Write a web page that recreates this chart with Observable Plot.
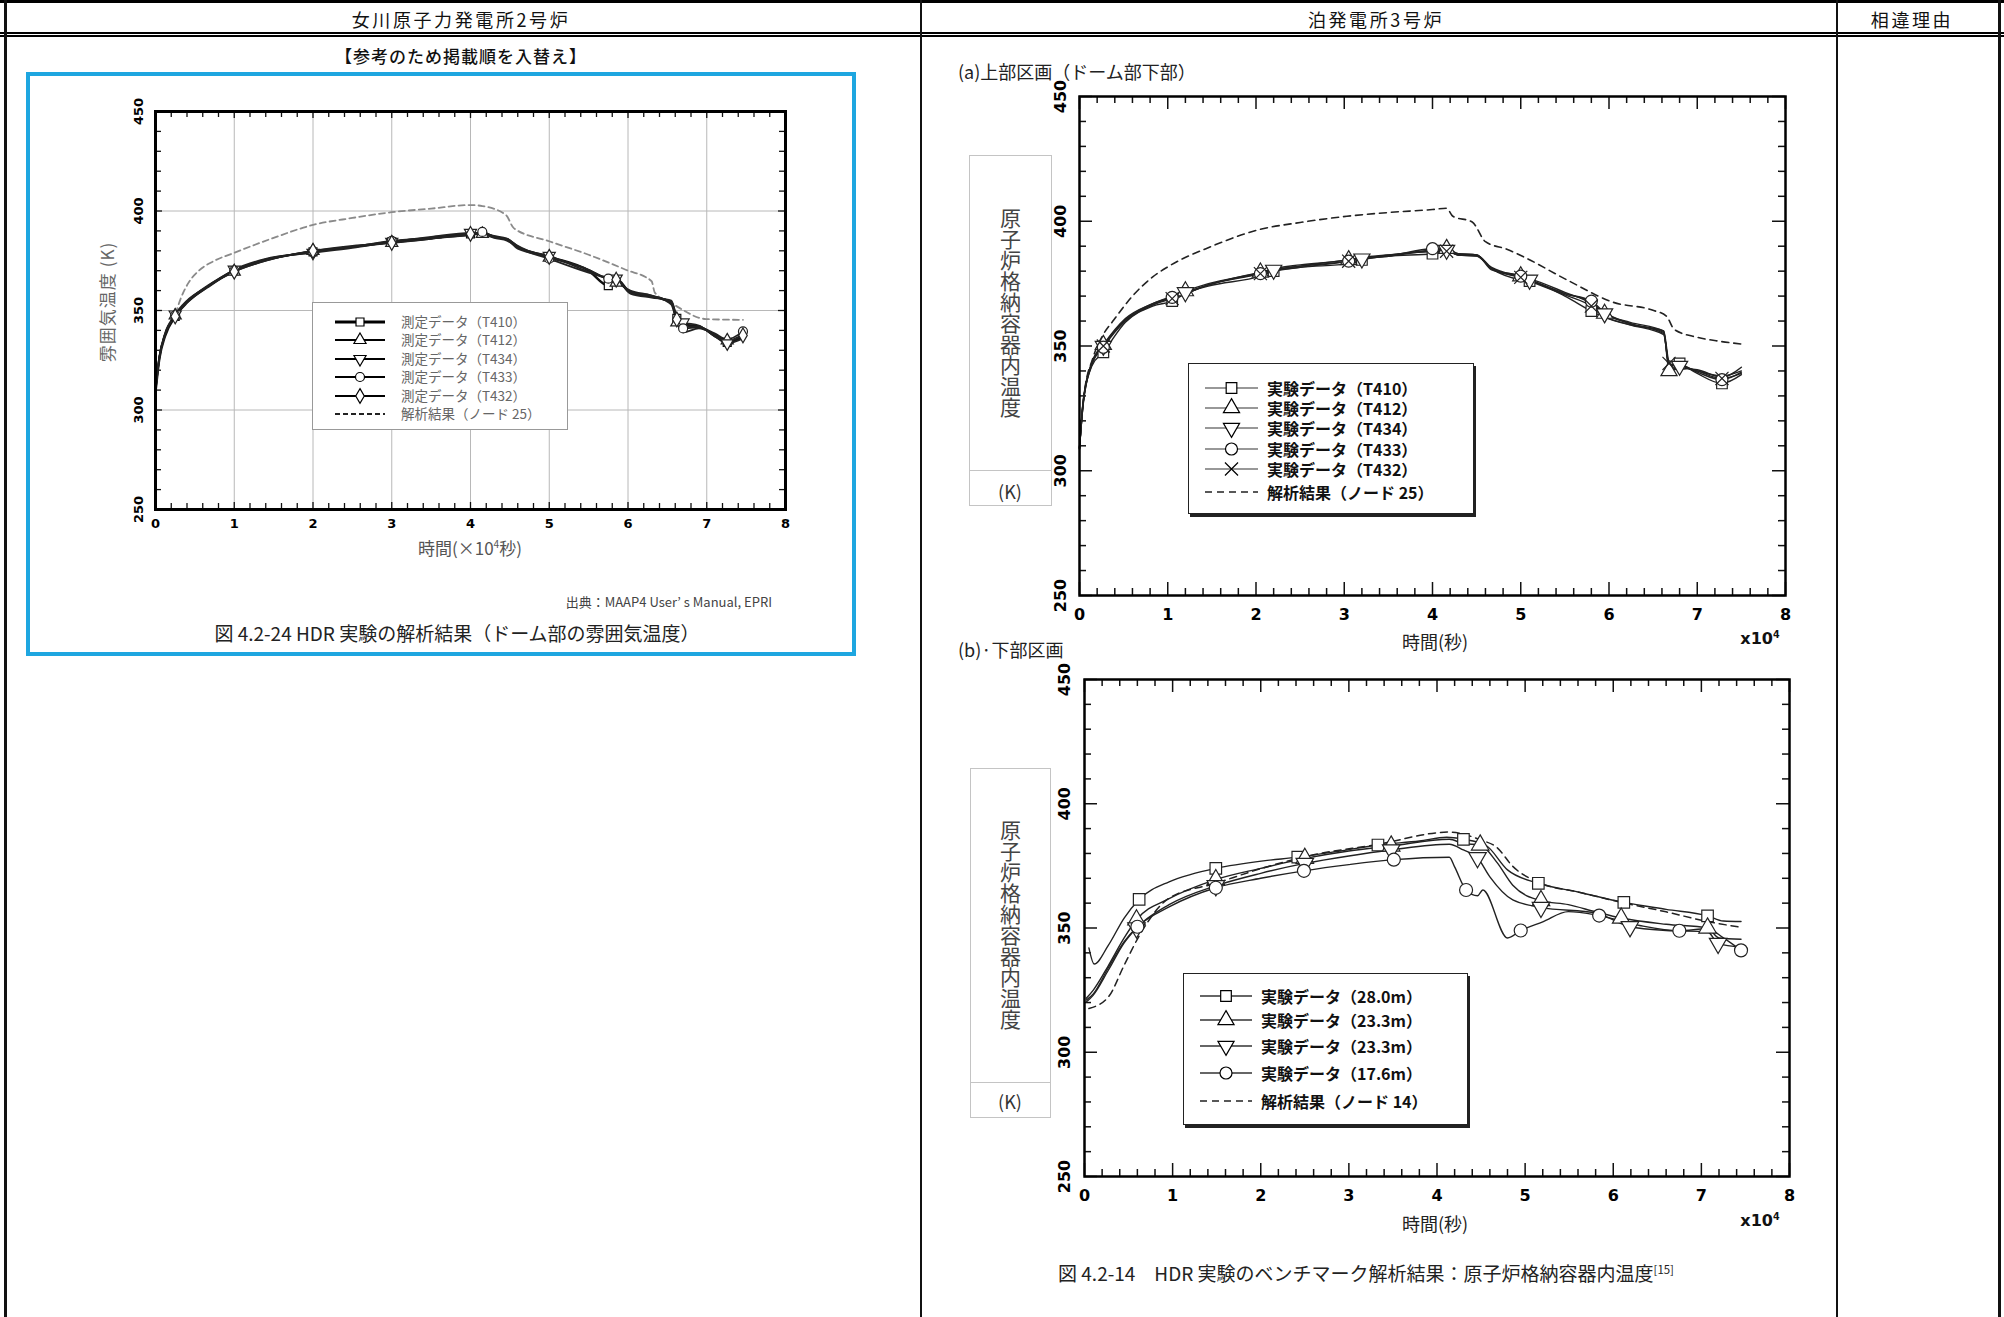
<!DOCTYPE html>
<html><head><meta charset="utf-8">
<script src="https://cdn.jsdelivr.net/npm/d3@7"></script>
<script src="https://cdn.jsdelivr.net/npm/@observablehq/plot@0.6"></script>
<style>
body{margin:0;background:#fff;}
#page{position:relative;width:2004px;height:1317px;overflow:hidden;background:#fff;font-family:"Noto Sans CJK JP","Noto Sans",sans-serif;color:#111;}
sup{font-size:0.6em;vertical-align:0.6em;line-height:0}
</style></head><body><div id="page"></div>
<script>
// ================= DATA =================
const headers = ["女川原子力発電所2号炉", "泊発電所3号炉", "相違理由"];
const xTicks = [0, 1, 2, 3, 4, 5, 6, 7, 8];
const yTicks = [250, 300, 350, 400, 450];

// ---- Left chart (女川, 図4.2-24) : five measured series on a shared time grid (×10^4 s), K
const lX    = [0, 0.05, 0.12, 0.25, 0.4, 0.66, 1.0, 1.4, 2.0, 2.5, 3.0, 3.5, 4.0, 4.15, 4.3, 4.47, 4.6, 5.0, 5.5, 5.75, 5.85, 6.03, 6.3, 6.55, 6.62, 6.7, 6.9, 7.1, 7.26, 7.46];
const lT410 = [309, 326, 337, 347, 354, 362, 370, 375.5, 379.5, 382, 384.5, 386.5, 388.5, 389, 387, 385.5, 382, 377, 370, 362.5, 366, 359, 357, 354, 346, 343, 342, 337.5, 334, 337];
const lT412 = [310, 327, 338, 347.5, 354.5, 362.5, 369.5, 375, 380, 382.5, 384, 386, 388, 388.5, 387.5, 386, 382.5, 376.5, 370.5, 365.5, 364, 360, 357.5, 353, 344, 339, 341, 338, 335, 338];
const lT434 = [309, 326.5, 337.5, 348, 355, 362, 370.5, 376, 379, 381.5, 384.5, 387, 389, 388.5, 386.5, 385, 381.5, 377.5, 369.5, 366.5, 366, 358.5, 356.5, 355, 347, 344, 342.5, 337, 333.5, 336];
const lT433 = [310, 327, 338.5, 347.5, 354, 361.5, 370, 375.5, 379.5, 382, 385, 386.5, 388, 389.5, 387, 386, 382, 376, 369, 366, 365, 359.5, 357, 354.5, 345, 341, 341.5, 338.5, 335.5, 339.5];
const lT432 = [309.5, 326, 338, 347, 354.5, 362, 369.5, 375, 380, 382, 384, 386, 388.5, 388.5, 387, 385.5, 381, 377, 370.5, 366, 365.5, 359, 357.5, 354, 345.5, 342, 342, 337, 334.5, 337.5];
const lDashX = [0, 0.05, 0.12, 0.25, 0.32, 0.42, 0.55, 0.75, 1.0, 1.5, 2.0, 2.5, 3.0, 3.5, 4.0, 4.15, 4.45, 4.55, 5.0, 5.5, 5.97, 6.3, 6.34, 6.58, 6.99, 7.46];
const lDashY = [310, 327, 338, 348, 356, 364, 370, 375, 379, 386.5, 393, 396.5, 399.4, 401.2, 403, 402.5, 398, 391.4, 384.8, 378, 370.5, 364.7, 359, 353, 345.7, 345.3];
const lMarkT410 = [0.25, 1.0, 2.0, 3.0, 4.0, 5.0, 5.75, 6.62, 7.26];
const lMarkT412 = [0.25, 1.0, 2.0, 3.0, 4.15, 5.0, 5.85, 6.62, 7.26];
const lMarkT434 = [0.25, 1.0, 2.0, 3.0, 4.0, 5.0, 5.85, 6.7, 7.26];
const lMarkT433 = [0.25, 1.0, 2.0, 3.0, 4.15, 5.0, 5.75, 6.7, 7.46];
const lMarkT432 = [0.25, 1.0, 2.0, 3.0, 4.0, 5.0, 5.85, 6.62, 7.46];
const lLabels = ["測定データ（T410）", "測定データ（T412）", "測定データ（T434）", "測定データ（T433）", "測定データ（T432）", "解析結果（ノード 25）"];

// ---- Right top chart (泊, (a) 上部区画)
const rX    = [0, 0.04, 0.14, 0.27, 0.52, 0.83, 1.05, 1.2, 1.46, 2.05, 2.2, 2.5, 3.05, 3.2, 3.5, 4.0, 4.16, 4.29, 4.5, 4.67, 5.0, 5.1, 5.5, 5.8, 5.95, 6.24, 6.62, 6.68, 6.8, 7.0, 7.28, 7.5];
const rT410 = [309, 326, 342, 347.5, 359.5, 366, 368, 371, 374, 378, 380, 381.5, 383, 384.5, 386, 387, 388, 386.5, 386, 381, 376.5, 376, 370, 364, 361.5, 358.5, 356, 344, 343, 339, 335, 338.5];
const rT412 = [309.5, 327.5, 343.5, 350.5, 361, 367, 370, 372, 375, 379.5, 381, 382.5, 384.5, 385.5, 386.5, 388.5, 389, 387, 386.5, 381.5, 378, 377, 371.5, 367, 363, 359.5, 356, 340, 341, 340.5, 337.5, 341.5];
const rT434 = [309, 327, 343, 350, 360.5, 367, 369.5, 371.5, 374.5, 379.5, 380.5, 382, 384.5, 385, 386.5, 388, 388.5, 387, 386.5, 381, 377.5, 376.5, 371, 367.5, 363, 359, 355, 342.5, 342, 340, 338, 340];
const rT433 = [308.5, 326.5, 342.5, 349.5, 360, 366.5, 369.5, 371, 374.5, 379, 380.5, 382, 384, 385, 386, 389, 388.5, 386.5, 386.5, 380.5, 378, 376.5, 371, 368, 363.5, 359, 355.5, 342, 342.5, 339.5, 336.5, 339.5];
const rT432 = [309, 327, 343, 350, 360.5, 366.5, 369, 371, 374.5, 379, 380, 381.5, 384, 385, 386, 388, 388, 386.5, 386, 381, 377.5, 376, 370.5, 366, 362, 358.5, 354.5, 343, 342, 340, 337, 339];
const rDashX = [0, 0.05, 0.15, 0.26, 0.39, 0.6, 0.83, 1.0, 1.5, 2.03, 2.5, 3.03, 3.5, 4.0, 4.16, 4.23, 4.45, 4.6, 4.85, 5.04, 5.55, 6.05, 6.49, 6.65, 6.74, 7.0, 7.25, 7.5];
const rDashY = [309, 330, 345, 354, 360.5, 370, 377.7, 381.7, 390, 396.6, 399.5, 402, 403.5, 404.7, 405.2, 402, 399.7, 391.8, 388.7, 385.6, 376, 367.5, 364.4, 362, 356.6, 353.5, 351.9, 350.8];
const rMarkT410 = [0.27, 1.05, 2.2, 3.2, 4.0, 5.1, 5.8, 6.8, 7.28];
const rMarkT412 = [0.27, 1.2, 2.05, 3.05, 4.16, 5.0, 5.95, 6.68];
const rMarkT434 = [0.27, 1.2, 2.2, 3.2, 4.16, 5.1, 5.95, 6.8];
const rMarkT433 = [0.27, 1.05, 2.05, 3.05, 4.0, 5.0, 5.8, 7.28];
const rMarkT432 = [0.27, 1.05, 2.05, 3.05, 4.16, 5.0, 5.8, 6.68, 7.28];
const rLabels = ["実験データ（T410）", "実験データ（T412）", "実験データ（T434）", "実験データ（T433）", "実験データ（T432）", "解析結果（ノード 25）"];

// ---- Right bottom chart (泊, (b) 下部区画)
const b280X  = [0.05, 0.11, 0.27, 0.45, 0.62, 0.96, 1.2, 1.49, 2.03, 2.42, 2.9, 3.33, 3.8, 4.11, 4.3, 4.55, 4.8, 5.15, 5.6, 6.12, 6.6, 7.07, 7.25, 7.45];
const b280Y  = [342, 335.5, 343, 354, 361.5, 368.6, 371.5, 374, 377, 378.5, 381, 383.4, 385, 386.5, 385.7, 383.4, 373.4, 368, 364.5, 360.3, 357.5, 354.9, 352.8, 352.6];
const b233aX = [0.02, 0.1, 0.27, 0.45, 0.59, 0.96, 1.49, 2.0, 2.5, 3.0, 3.48, 4.14, 4.3, 4.49, 4.68, 4.86, 5.18, 5.49, 5.8, 6.09, 6.6, 7.07, 7.2, 7.45];
const b233aY = [321.7, 325, 334.8, 346, 353.3, 361.8, 369.5, 374, 378, 381, 383, 385.7, 384, 383.4, 376.4, 367.2, 361, 359.4, 356.5, 354, 351.5, 350, 346, 345.5];
const b233bX = [0.02, 0.1, 0.27, 0.45, 0.59, 0.96, 1.49, 2.0, 2.5, 3.0, 3.48, 4.14, 4.3, 4.46, 4.6, 4.86, 5.18, 5.81, 6.19, 6.6, 7.07, 7.19, 7.45];
const b233bY = [320.2, 323, 333, 344, 350, 359.4, 367, 372, 376, 379, 381.4, 383.7, 381.4, 378.3, 370.6, 361.3, 358.3, 356, 350.5, 349, 348.5, 343.8, 342.3];
const b176X  = [0.02, 0.1, 0.27, 0.45, 0.6, 0.96, 1.49, 2.0, 2.49, 3.0, 3.51, 4.14, 4.2, 4.33, 4.46, 4.52, 4.8, 4.95, 5.2, 5.49, 5.84, 6.3, 6.75, 7.07, 7.25, 7.45];
const b176Y  = [321, 323.5, 334, 344.5, 350.5, 358.5, 366.2, 370, 373, 375.5, 377.5, 378.5, 374.6, 365.3, 363, 365.3, 346, 349, 352.5, 356.6, 355, 351, 348.9, 349.7, 346, 341];
const bDashX = [0.05, 0.27, 0.45, 0.62, 0.96, 1.49, 2.03, 2.6, 3.29, 4.14, 4.49, 4.68, 4.86, 5.18, 5.6, 6.12, 6.6, 7.07, 7.45];
const bDashY = [317.6, 322.2, 335, 346.8, 362, 368, 374.2, 379.5, 383.4, 388.6, 385.5, 382.4, 374.8, 368, 364.5, 360.1, 356.5, 352.6, 350.3];
const bMark280  = [0.62, 1.49, 2.42, 3.33, 4.3, 5.15, 6.12, 7.07];
const bMark233a = [0.59, 1.49, 2.5, 3.48, 4.49, 5.18, 6.09, 7.07];
const bMark233b = [0.59, 1.49, 2.5, 3.48, 4.46, 5.18, 6.19, 7.19];
const bMark176  = [0.6, 1.49, 2.49, 3.51, 4.33, 4.95, 5.84, 6.75, 7.45];
const bLabels = ["実験データ（28.0m）", "実験データ（23.3m）", "実験データ（23.3m）", "実験データ（17.6m）", "解析結果（ノード 14）"];

// ================= HELPERS =================
const page = document.getElementById("page");
function box(x, y, w, h, style) {
  const d = document.createElement("div");
  d.style.cssText = `position:absolute;left:${x}px;top:${y}px;width:${w}px;height:${h}px;box-sizing:border-box;${style || ""}`;
  page.appendChild(d); return d;
}
function label(html, x, y, style, anchor) {
  const d = document.createElement("div");
  d.innerHTML = html;
  const tx = anchor === "start" ? "0" : anchor === "end" ? "-100%" : "-50%";
  d.style.cssText = `position:absolute;left:${x}px;top:${y}px;transform:translate(${tx},-50%);white-space:nowrap;line-height:1;${style || ""}`;
  page.appendChild(d); return d;
}
const triDown = {
  draw(context, size) {
    const y = -Math.sqrt(size / (Math.sqrt(3) * 3));
    context.moveTo(0, -y * 2);
    context.lineTo(-Math.sqrt(3) * y, y);
    context.lineTo(Math.sqrt(3) * y, y);
    context.closePath();
  }
};
const d3Sym = {square: d3.symbolSquare, triangle: d3.symbolTriangle, triangleDown: triDown, circle: d3.symbolCircle, diamond: d3.symbolDiamond, times: d3.symbolTimes};
const plotSym = {square: "square", triangle: "triangle", triangleDown: triDown, circle: "circle", diamond: "diamond", times: "times"};

function zip(xs, ys) { return xs.map((x, i) => ({x, y: ys[i]})); }

function makeChart(cfg) {
  const {l, t, w, h} = cfg.frame;
  const ml = 50, mr = 20, mt = 20, mb = 40;
  const kx = 8 / w, ky = 200 / h;
  const xMinor = d3.range(0, 80.5, 2).map(v => v / 10);
  const yMinor = d3.range(250, 451, 10);
  const isMajX = d => Math.abs(d - Math.round(d)) < 1e-6;
  const isMajY = d => d % 50 === 0;
  const marks = [];
  if (cfg.grid) {
    marks.push(Plot.ruleX([1, 2, 3, 4, 5, 6, 7], {stroke: "#b8b8b8", strokeWidth: 1}));
    marks.push(Plot.ruleY([300, 350, 400], {stroke: "#b8b8b8", strokeWidth: 1}));
  }
  const tk = cfg.tickW, mj = cfg.majLen, mn = cfg.minLen;
  marks.push(Plot.ruleX(xMinor, {x: d => d, y1: 250, y2: d => 250 + (isMajX(d) ? mj : mn) * ky, stroke: "#111", strokeWidth: tk}));
  marks.push(Plot.ruleX(xMinor, {x: d => d, y1: 450, y2: d => 450 - (isMajX(d) ? mj : mn) * ky, stroke: "#111", strokeWidth: tk}));
  marks.push(Plot.ruleY(yMinor, {y: d => d, x1: 0, x2: d => (isMajY(d) ? mj : mn) * kx, stroke: "#111", strokeWidth: tk}));
  marks.push(Plot.ruleY(yMinor, {y: d => d, x1: 8, x2: d => 8 - (isMajY(d) ? mj : mn) * kx, stroke: "#111", strokeWidth: tk}));
  for (const s of cfg.dashes) {
    marks.push(Plot.line(s.data, {x: "x", y: "y", stroke: s.color, strokeWidth: s.width, strokeDasharray: s.dash, curve: "monotone-x"}));
  }
  for (const s of cfg.series) {
    marks.push(Plot.line(s.data, {x: "x", y: "y", stroke: s.color, strokeWidth: s.width, curve: "monotone-x"}));
  }
  for (const s of cfg.series) {
    const pts = s.data.filter(d => s.marks.some(m => Math.abs(m - d.x) < 1e-9));
    marks.push(Plot.dot(pts, {x: "x", y: "y", symbol: plotSym[s.symbol], r: cfg.dotR, fill: "white", stroke: s.color, strokeWidth: cfg.dotW}));
  }
  marks.push(Plot.frame({stroke: "#000", strokeWidth: cfg.frameW}));
  marks.push(Plot.text(xTicks, {x: d => d, y: 250, dy: cfg.xLabDy, text: d => String(d), fontSize: cfg.tickFont, fontWeight: "bold", fontFamily: "'Liberation Sans Narrow','DejaVu Sans',sans-serif", fill: "#000"}));
  marks.push(Plot.text(yTicks, {x: 0, y: d => d, dx: cfg.yLabDx, rotate: -90, text: d => String(d), fontSize: cfg.tickFont, fontWeight: "bold", fontFamily: "'Liberation Sans Narrow','DejaVu Sans',sans-serif", fill: "#000"}));
  const svg = Plot.plot({
    width: w + ml + mr, height: h + mt + mb,
    marginLeft: ml, marginRight: mr, marginTop: mt, marginBottom: mb,
    x: {domain: [0, 8], axis: null},
    y: {domain: [250, 450], axis: null},
    style: {background: "transparent", overflow: "visible"},
    marks
  });
  const holder = box(l - ml, t - mt, w + ml + mr, h + mt + mb, "");
  holder.appendChild(svg);
}

function legend(cfg) {
  const b = box(cfg.x, cfg.y, cfg.w, cfg.h, `background:#fff;border:${cfg.border};${cfg.extra || ""}`);
  cfg.entries.forEach((e, i) => {
    const yy = cfg.rows[i] - cfg.y;
    const sw = document.createElementNS("http://www.w3.org/2000/svg", "svg");
    const x0 = cfg.swX0 - cfg.x, x1 = cfg.swX1 - cfg.x;
    sw.setAttribute("width", cfg.w); sw.setAttribute("height", 24);
    sw.style.cssText = `position:absolute;left:-1px;top:${yy - 12}px;overflow:visible`;
    const ln = document.createElementNS("http://www.w3.org/2000/svg", "line");
    ln.setAttribute("x1", x0); ln.setAttribute("x2", x1); ln.setAttribute("y1", 12); ln.setAttribute("y2", 12);
    ln.setAttribute("stroke", e.color); ln.setAttribute("stroke-width", e.width);
    if (e.dash) ln.setAttribute("stroke-dasharray", e.dash);
    sw.appendChild(ln);
    if (e.symbol) {
      const p = document.createElementNS("http://www.w3.org/2000/svg", "path");
      p.setAttribute("d", d3.symbol().type(d3Sym[e.symbol]).size(Math.PI * cfg.r * cfg.r)());
      p.setAttribute("transform", `translate(${(x0 + x1) / 2},12)`);
      p.setAttribute("fill", "#fff"); p.setAttribute("stroke", "#000"); p.setAttribute("stroke-width", cfg.symW);
      sw.appendChild(p);
    }
    b.appendChild(sw);
    const tx = document.createElement("div");
    tx.textContent = e.label;
    tx.style.cssText = `position:absolute;left:${cfg.textX - cfg.x}px;top:${yy}px;transform:translateY(-50%);white-space:nowrap;line-height:1;${cfg.font}`;
    b.appendChild(tx);
  });
}

// ================= TABLE =================
box(0, 0, 2004, 3, "background:#000");
box(0, 32, 2004, 1.5, "background:#000");
box(0, 35, 2004, 2, "background:#000");
box(4, 0, 3, 1317, "background:#111");
box(920, 0, 2, 1317, "background:#111");
box(1836, 0, 2, 1317, "background:#111");
box(1998, 0, 3, 1317, "background:#111");
const headStyle = "font-size:18px;letter-spacing:2.6px;color:#111;";
label(headers[0], 461, 19, headStyle);
label(headers[1], 1376, 19, headStyle);
label(headers[2], 1912, 19, headStyle);
label("【参考のため掲載順を入替え】", 461, 55, "font-size:17px;letter-spacing:1px;font-weight:500;");

// ================= LEFT FIGURE =================
box(26, 72, 830, 584, "border:4px solid #1ea6e0;");
const leftSeries = [
  {data: zip(lX, lT410), symbol: "square", marks: lMarkT410, color: "#111", width: 2.4},
  {data: zip(lX, lT412), symbol: "triangle", marks: lMarkT412, color: "#222", width: 1.7},
  {data: zip(lX, lT434), symbol: "triangleDown", marks: lMarkT434, color: "#222", width: 1.7},
  {data: zip(lX, lT433), symbol: "circle", marks: lMarkT433, color: "#222", width: 1.7},
  {data: zip(lX, lT432), symbol: "diamond", marks: lMarkT432, color: "#222", width: 1.7}
];
makeChart({
  frame: {l: 155, t: 111, w: 630, h: 398}, grid: true,
  series: leftSeries,
  dashes: [{data: zip(lDashX, lDashY), color: "#8a8a8a", width: 1.8, dash: "6,4"}],
  tickW: 1.3, majLen: 7, minLen: 6, frameW: 3, dotR: 4.5, dotW: 1.2,
  tickFont: 13, xLabDy: 14, yLabDx: -17
});
label("雰囲気温度 (K)", 106, 302, "font-size:17px;color:#666;transform:translate(-50%,-50%) rotate(-90deg);letter-spacing:1px;");
label("時間(×10<sup>4</sup>秒)", 470, 547, "font-size:17px;color:#555;");
label("出典：MAAP4 User’ s Manual, EPRI", 772, 601, "font-size:13px;color:#444;", "end");
label("図 4.2-24 HDR 実験の解析結果（ドーム部の雰囲気温度）", 457, 632, "font-size:19px;color:#222;");
legend({
  x: 312, y: 302, w: 256, h: 128, border: "1px solid #999",
  rows: [321, 339, 358, 376, 395, 413], swX0: 335, swX1: 385, textX: 400, r: 4.5, symW: 1.2,
  font: "font-size:13.5px;color:#666;",
  entries: [
    {label: lLabels[0], symbol: "square", color: "#000", width: 3},
    {label: lLabels[1], symbol: "triangle", color: "#000", width: 2},
    {label: lLabels[2], symbol: "triangleDown", color: "#000", width: 2},
    {label: lLabels[3], symbol: "circle", color: "#000", width: 2},
    {label: lLabels[4], symbol: "diamond", color: "#000", width: 2},
    {label: lLabels[5], color: "#222", width: 2, dash: "5,3"}
  ]
});

// ================= RIGHT TOP =================
label("(a)上部区画（ドーム部下部）", 958, 71, "font-size:18px;color:#222;", "start");
box(969, 155, 83, 351, "border:1px solid #c4c4c4;");
box(969, 470, 83, 1, "background:#c4c4c4;");
label("原子炉格納容器内温度", 1010, 313, "font-size:21px;color:#444;writing-mode:vertical-rl;letter-spacing:0px;");
label("(K)", 1010, 491, "font-size:18px;color:#333;");
const rtSeries = [
  {data: zip(rX, rT410), symbol: "square", marks: rMarkT410, color: "#222", width: 1.4},
  {data: zip(rX, rT412), symbol: "triangle", marks: rMarkT412, color: "#222", width: 1.4},
  {data: zip(rX, rT434), symbol: "triangleDown", marks: rMarkT434, color: "#222", width: 1.4},
  {data: zip(rX, rT433), symbol: "circle", marks: rMarkT433, color: "#222", width: 1.4},
  {data: zip(rX, rT432), symbol: "times", marks: rMarkT432, color: "#222", width: 1.4}
];
makeChart({
  frame: {l: 1079, t: 96, w: 706, h: 499}, grid: false,
  series: rtSeries,
  dashes: [{data: zip(rDashX, rDashY), color: "#222", width: 1.6, dash: "7,5"}],
  tickW: 1.5, majLen: 13, minLen: 7, frameW: 2.5, dotR: 6, dotW: 1.2,
  tickFont: 16, xLabDy: 19, yLabDx: -19
});
label("時間(秒)", 1435, 641, "font-size:18px;color:#222;");
label("x10<sup>4</sup>", 1760, 639, "font-size:16px;font-weight:bold;font-family:'Liberation Sans Narrow','DejaVu Sans',sans-serif;");
legend({
  x: 1188, y: 363, w: 286, h: 151, border: "1.5px solid #222", extra: "box-shadow:2px 3px 0 #222;",
  rows: [387, 407, 427, 448, 468, 491], swX0: 1205, swX1: 1258, textX: 1266, r: 6, symW: 1.2,
  font: "font-size:16px;font-weight:600;color:#111;",
  entries: [
    {label: rLabels[0], symbol: "square", color: "#333", width: 1.2},
    {label: rLabels[1], symbol: "triangle", color: "#333", width: 1.2},
    {label: rLabels[2], symbol: "triangleDown", color: "#333", width: 1.2},
    {label: rLabels[3], symbol: "circle", color: "#333", width: 1.2},
    {label: rLabels[4], symbol: "times", color: "#333", width: 1.2},
    {label: rLabels[5], color: "#222", width: 1.5, dash: "7,5"}
  ]
});

// ================= RIGHT BOTTOM =================
label("(b)·下部区画", 958, 649, "font-size:18px;color:#222;", "start");
box(970, 768, 81, 350, "border:1px solid #c4c4c4;");
box(970, 1082, 81, 1, "background:#c4c4c4;");
label("原子炉格納容器内温度", 1010, 925, "font-size:21px;color:#444;writing-mode:vertical-rl;");
label("(K)", 1010, 1101, "font-size:18px;color:#333;");
const bSeries = [
  {data: zip(b280X, b280Y), symbol: "square", marks: bMark280, color: "#222", width: 1.4},
  {data: zip(b233aX, b233aY), symbol: "triangle", marks: bMark233a, color: "#222", width: 1.4},
  {data: zip(b233bX, b233bY), symbol: "triangleDown", marks: bMark233b, color: "#222", width: 1.4},
  {data: zip(b176X, b176Y), symbol: "circle", marks: bMark176, color: "#222", width: 1.4}
];
makeChart({
  frame: {l: 1084, t: 679, w: 705, h: 497}, grid: false,
  series: bSeries,
  dashes: [{data: zip(bDashX, bDashY), color: "#222", width: 1.5, dash: "7,5"}],
  tickW: 1.5, majLen: 13, minLen: 7, frameW: 2.5, dotR: 6.5, dotW: 1.2,
  tickFont: 16, xLabDy: 19, yLabDx: -20
});
label("時間(秒)", 1435, 1223, "font-size:18px;color:#222;");
label("x10<sup>4</sup>", 1760, 1221, "font-size:16px;font-weight:bold;font-family:'Liberation Sans Narrow','DejaVu Sans',sans-serif;");
legend({
  x: 1183, y: 973, w: 285, h: 152, border: "1.5px solid #222", extra: "box-shadow:2px 3px 0 #222;",
  rows: [995, 1019, 1045, 1072, 1100], swX0: 1200, swX1: 1252, textX: 1260, r: 6, symW: 1.2,
  font: "font-size:16px;font-weight:600;color:#111;",
  entries: [
    {label: bLabels[0], symbol: "square", color: "#333", width: 1.3},
    {label: bLabels[1], symbol: "triangle", color: "#333", width: 1.3},
    {label: bLabels[2], symbol: "triangleDown", color: "#333", width: 1.3},
    {label: bLabels[3], symbol: "circle", color: "#333", width: 1.3},
    {label: bLabels[4], color: "#222", width: 1.5, dash: "7,5"}
  ]
});
label("図 4.2-14　HDR 実験のベンチマーク解析結果：原子炉格納容器内温度<sup>[15]</sup>", 1366, 1272, "font-size:19px;color:#222;");
</script></body></html>
